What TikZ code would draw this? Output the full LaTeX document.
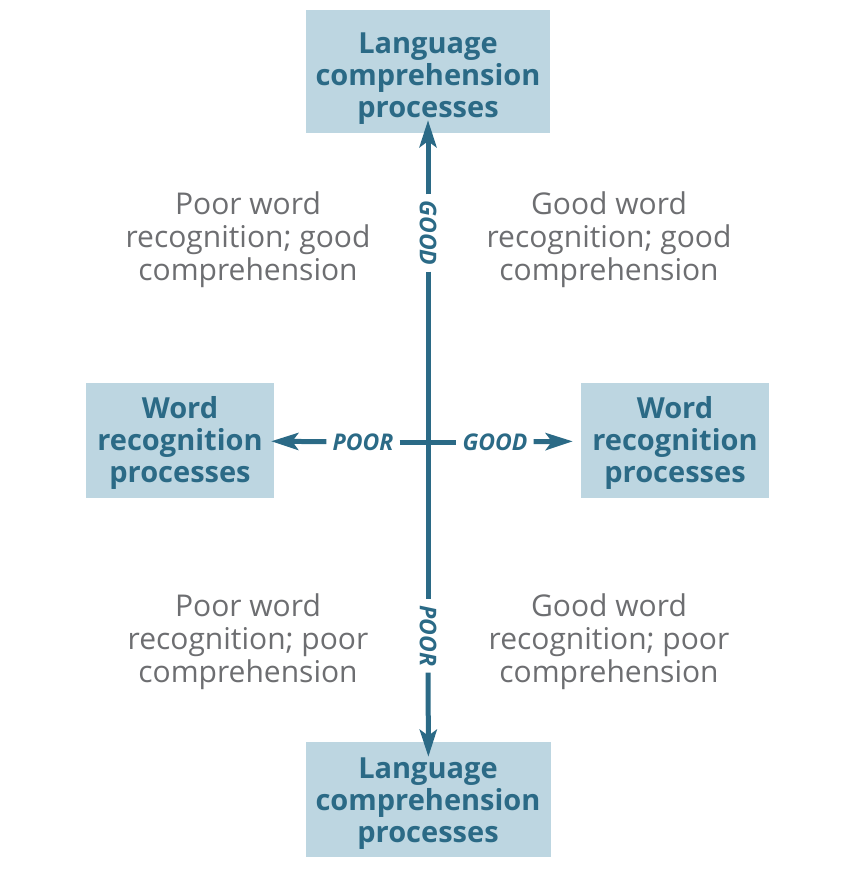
\documentclass[tikz,border=0pt]{standalone}
\usepackage{fontspec}
\setmainfont{Open Sans}
\usetikzlibrary{arrows.meta}
\definecolor{boxfill}{HTML}{BDD6E1}
\definecolor{teal}{HTML}{2B6A86}
\definecolor{greytxt}{HTML}{6D6E71}
\tikzset{
  box/.style={fill=boxfill, draw=none, inner sep=0pt},
  boxtext/.style={align=center, text=teal, font=\fontsize{29}{32}\selectfont\bfseries, inner sep=0pt},
  quad/.style={align=center, text=greytxt, font=\fontsize{30}{33}\selectfont, inner sep=0pt},
  axlabel/.style={text=teal, font=\fontsize{23}{24}\selectfont\bfseries\itshape, inner xsep=6pt, inner ysep=0pt},
  axis/.style={draw=teal, line width=5pt},
  axarrow/.style={axis, -{Stealth[length=27pt, width=17pt, inset=6pt]}},
}
\begin{document}
\begin{tikzpicture}[x=1pt, y=-1pt]
\useasboundingbox (0,0) rectangle (858,888);
\node[box, minimum width=244, minimum height=123] (top) at (428,71.5) {};
\node[box, minimum width=245, minimum height=115] (bottom) at (428.5,799.5) {};
\node[box, minimum width=188, minimum height=115] (left) at (180,440.5) {};
\node[box, minimum width=188, minimum height=115] (right) at (675,440.5) {};
\node[boxtext] (toptext) at (428,79) {Language\\comprehension\\processes};
\node[boxtext] (bottomtext) at (428,803.5) {Language\\comprehension\\processes};
\node[boxtext] (lefttext) at (180,442.5) {Word\\recognition\\processes};
\node[boxtext] (righttext) at (675,442.5) {Word\\recognition\\processes};

\coordinate (c) at (428,442);
\node[axlabel, rotate=-90] (goodV) at (428,233) {GOOD};
\node[axlabel, rotate=-90] (poorV) at (428,636) {POOR};
\node[axlabel] (poorH) at (363,442) {POOR};
\node[axlabel] (goodH) at (495,442) {GOOD};

\draw[axis] (goodV) -- (c) -- (poorV);
\draw[axis] (poorH) -- (c) -- (goodH);
\draw[axarrow, shorten >=-13pt] (goodV) -- (top);
\draw[axarrow, shorten >=-15pt] (poorV) -- (bottom);
\draw[axarrow, shorten >=-3pt] (poorH) -- (left);
\draw[axarrow, shorten >=8pt] (goodH) -- (right);

\node[quad] (tl) at (248,240) {Poor word\\recognition; good\\comprehension};
\node[quad] (tr) at (609,240) {Good word\\recognition; good\\comprehension};
\node[quad] (bl) at (248,642) {Poor word\\recognition; poor\\comprehension};
\node[quad] (br) at (609,642) {Good word\\recognition; poor\\comprehension};
\end{tikzpicture}
\end{document}
